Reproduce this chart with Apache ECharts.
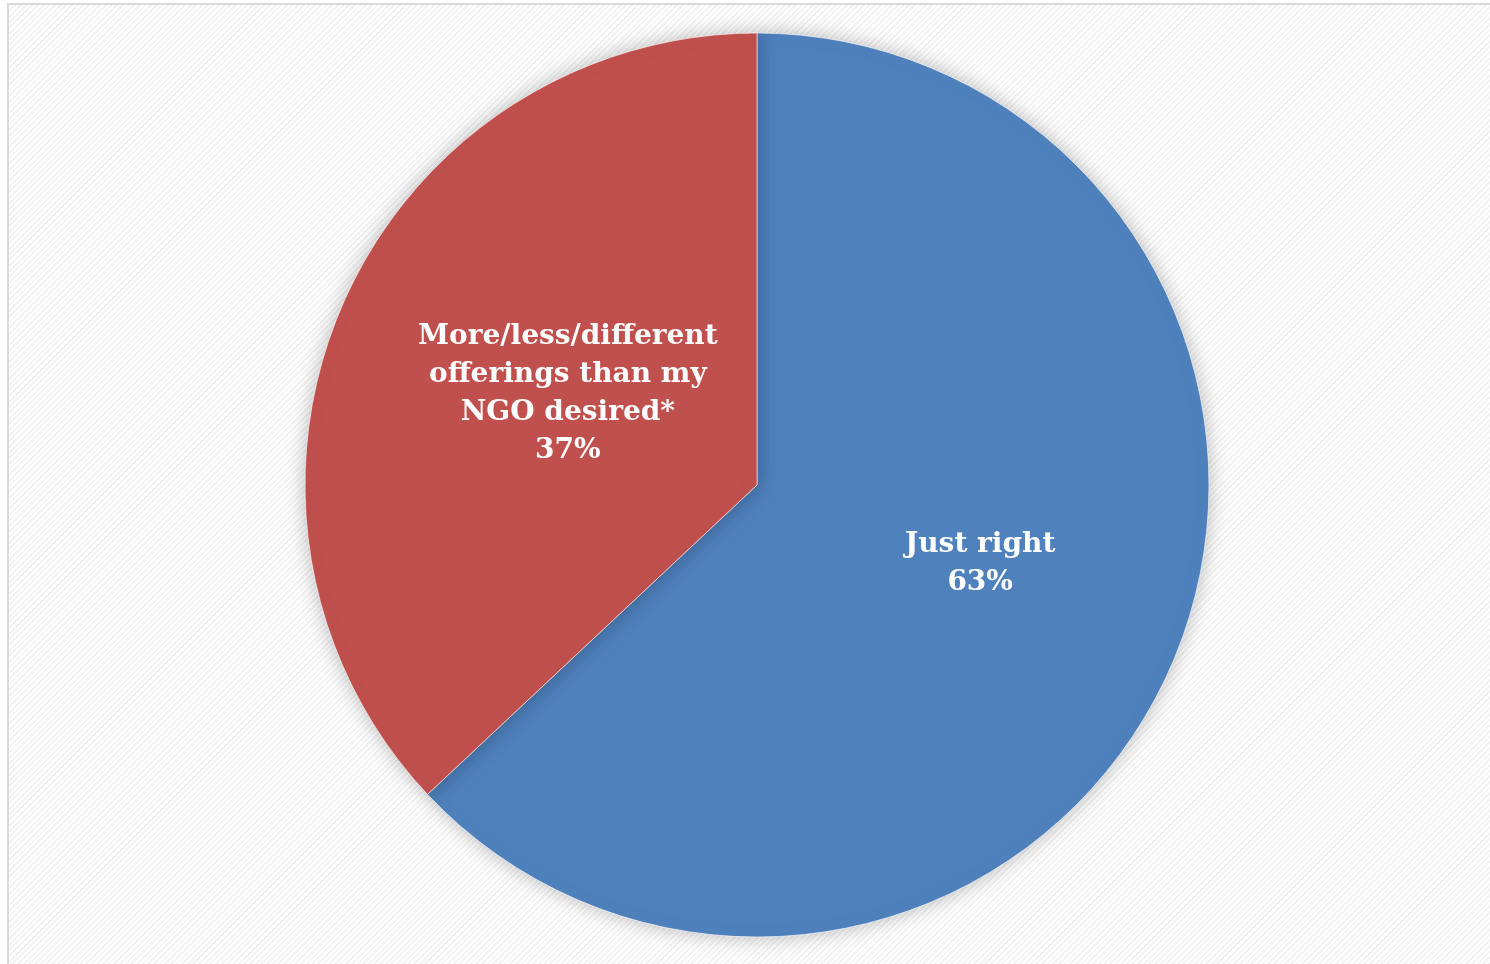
<!DOCTYPE html>
<html>
<head>
<meta charset="utf-8">
<script src="https://cdn.jsdelivr.net/npm/echarts@6/dist/echarts.min.js"></script>
<style>
  html, body { margin: 0; padding: 0; background: #ffffff; }
  #frame {
    position: absolute; left: 7px; top: 3px; width: 1490px; height: 970px;
    border-left: 2px solid #d9d9d9; border-top: 2px solid #d9d9d9;
    background: repeating-linear-gradient(-45deg, #ffffff 0px, #ffffff 2px, #f3f3f3 2px, #f3f3f3 4px);
  }
  #chart { position: absolute; left: 0; top: 0; width: 1490px; height: 964px; }
</style>
</head>
<body>
<div id="frame"></div>
<div id="chart"></div>
<script>
const categories = ["Just right", "More/less/different\nofferings than my\nNGO desired*"];
const values = [63, 37];
const colors = ["#4f81bd", "#c0504d"];
const labelOffsets = [[13, -12], [21, 0]];

const chart = echarts.init(document.getElementById('chart'), null, { renderer: 'canvas' });
chart.setOption({
  backgroundColor: 'transparent',
  animation: false,
  series: [{
    type: 'pie',
    center: [757, 485],
    radius: [0, 452],
    startAngle: 90,
    clockwise: true,
    data: categories.map((c, i) => ({
      name: c, value: values[i],
      itemStyle: { color: colors[i] },
      label: { offset: labelOffsets[i] }
    })),
    itemStyle: {
      borderColor: 'rgba(255,255,255,0.6)',
      borderWidth: 1,
      shadowBlur: 20,
      shadowColor: 'rgba(0,0,0,0.28)',
      shadowOffsetX: 0,
      shadowOffsetY: 0
    },
    label: {
      show: true,
      position: 'inside',
      formatter: p => p.name + '\n' + p.value + '%',
      color: '#ffffff',
      fontFamily: 'DejaVu Serif',
      fontWeight: 'bold',
      fontSize: 28,
      lineHeight: 38,
      align: 'center'
    },
    labelLine: { show: false }
  }]
});
</script>
</body>
</html>
